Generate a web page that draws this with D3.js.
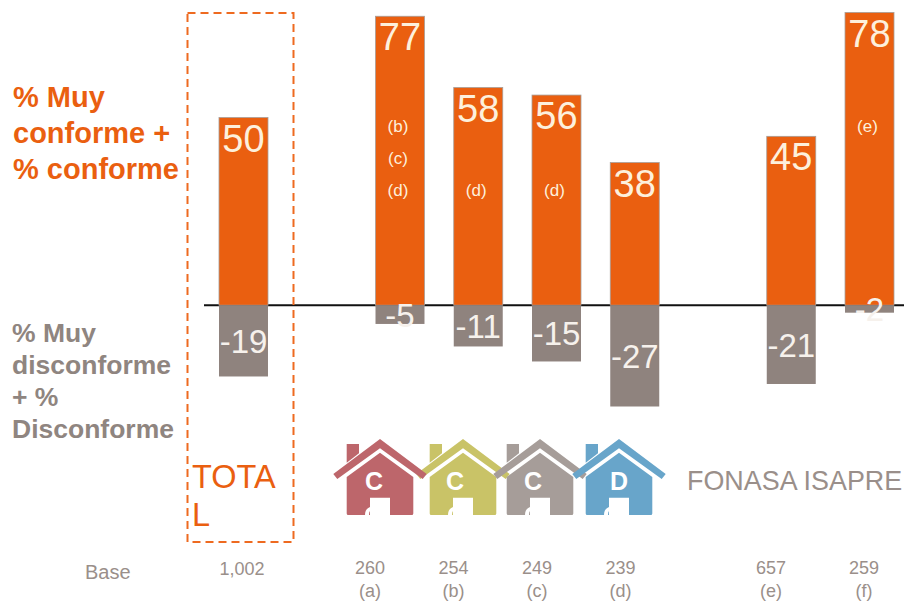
<!DOCTYPE html>
<html>
<head>
<meta charset="utf-8">
<script src="https://cdn.jsdelivr.net/npm/d3@7"></script>
<style>
  html, body { margin: 0; padding: 0; background: #fff; }
  svg { display: block; font-family: "Liberation Sans", Arial, sans-serif; }
</style>
</head>
<body>
<svg id="chart" width="904" height="601"></svg>
<script>
// chart data
var categories = ["TOTAL", "a", "b", "c", "d", "e", "f"];
var positive = [50, 77, 58, 56, 38, 45, 78];
var negative = [-19, -5, -11, -15, -27, -21, -2];
var significance = [[], ["(b)", "(c)", "(d)"], ["", "", "(d)"], ["", "", "(d)"], [], [], ["(e)"]];
var bases = ["1,002", "260", "254", "249", "239", "657", "259"];
var baseTags = ["", "(a)", "(b)", "(c)", "(d)", "(e)", "(f)"];
var houseLetters = ["C", "C", "C", "D"];

var ORANGE = "#ea5f10", GREY = "#8f837e", TEXT_GREY = "#9a8f8a";

var svg = d3.select("#chart");

// empty slots keep the gaps between the groups of bars
var slots = ["TOTAL", "gap1", "a", "b", "c", "d", "gap2", "e", "f"];
var x = d3.scaleBand().domain(slots).range([219, 894]).paddingInner(0.374).paddingOuter(0);
var y = d3.scaleLinear().domain([-27, 78]).range([406.5, 12.5]);

var data = categories.map(function(c, i) {
  return { cat: c, pos: positive[i], neg: negative[i], sig: significance[i] };
});

// zero line sits under the bars
svg.append("line")
  .attr("x1", 204).attr("x2", 904)
  .attr("y1", y(0)).attr("y2", y(0))
  .attr("stroke", "#111").attr("stroke-width", 2);

svg.selectAll(".bar-pos").data(data).enter().append("rect")
  .attr("class", "bar-pos")
  .attr("x", function(d) { return x(d.cat); })
  .attr("y", function(d) { return y(d.pos); })
  .attr("width", x.bandwidth())
  .attr("height", function(d) { return y(0) - y(d.pos); })
  .attr("fill", ORANGE)
  .attr("stroke", "#a79d97").attr("stroke-width", 0.8);

svg.selectAll(".bar-neg").data(data).enter().append("rect")
  .attr("class", "bar-neg")
  .attr("x", function(d) { return x(d.cat); })
  .attr("y", y(0))
  .attr("width", x.bandwidth())
  .attr("height", function(d) { return y(d.neg) - y(0); })
  .attr("fill", GREY);

svg.selectAll(".val-pos").data(data).enter().append("text")
  .attr("class", "val-pos")
  .attr("x", function(d) { return x(d.cat) + x.bandwidth() / 2; })
  .attr("y", function(d) { return y(d.pos) + 34; })
  .attr("text-anchor", "middle")
  .attr("font-size", 38)
  .attr("fill", "#fdf0dc")
  .text(function(d) { return d.pos; });

svg.selectAll(".val-neg").data(data).enter().append("text")
  .attr("class", "val-neg")
  .attr("x", function(d) { return x(d.cat) + x.bandwidth() / 2; })
  .attr("y", function(d) { return (y(0) + y(d.neg)) / 2 + 12; })
  .attr("text-anchor", "middle")
  .attr("font-size", 33)
  .attr("fill", "#f6f1ec")
  .text(function(d) { return d.neg; });

// letters for the significant differences
data.forEach(function(d) {
  d.sig.forEach(function(s, row) {
    svg.append("text")
      .attr("x", x(d.cat) + x.bandwidth() / 2 - 2)
      .attr("y", 132 + row * 32)
      .attr("text-anchor", "middle")
      .attr("font-size", 17)
      .attr("fill", "#fdf0dc")
      .text(s);
  });
});

// dashed box round the total
svg.append("rect")
  .attr("x", 187.5).attr("y", 13)
  .attr("width", 106).attr("height", 529)
  .attr("fill", "none")
  .attr("stroke", "#ee6a20").attr("stroke-width", 2)
  .attr("stroke-dasharray", "8,5");

function textLines(lines, xPos, yStart, step, size, color, weight) {
  lines.forEach(function(t, i) {
    svg.append("text")
      .attr("x", xPos).attr("y", yStart + i * step)
      .attr("font-size", size)
      .attr("font-weight", weight)
      .attr("fill", color)
      .text(t);
  });
}

textLines(["% Muy", "conforme +", "% conforme"], 13, 107, 36, 29, ORANGE, "bold");
textLines(["% Muy", "disconforme", "+ %", "Disconforme"], 12, 342, 32, 26.5, "#8f8580", "bold");
textLines(["TOTA", "L"], 192, 488, 38, 32.5, ORANGE, "normal");

svg.append("text")
  .attr("x", 687).attr("y", 490)
  .attr("font-size", 26.9)
  .attr("fill", TEXT_GREY)
  .text("FONASA ISAPRE");

// house icon, apex at 0,0
var house = {
  roof: "M0,0L46.7,35L42.7,40L0,9.3L-42.7,40L-46.7,35Z",
  chimney: "M-33.3,5H-21V14.3L-33.3,23.7Z",
  body: "M0,13.7L33.3,38V74.5Q33.3,76 31.8,76H10V58.7H-10V76H-31.8Q-33.3,76 -33.3,74.5V38Z",
  handle: "M-15,76Q-15,70 -10,68V72Q-11,73 -11,76Z"
};
var houseX = d3.scaleOrdinal().domain([0, 1, 2, 3]).range([380, 463, 540, 619]);
var letterX = d3.scaleOrdinal().domain([0, 1, 2, 3]).range([-6, -8, -7, 0]);
var houseColor = d3.scaleOrdinal().domain([0, 1, 2, 3]).range(["#bd666b", "#c9c367", "#a69d99", "#68a5ca"]);

// yellow goes first, the red eave lies on top of it
[1, 0, 2, 3].forEach(function(i) {
  var g = svg.append("g").attr("transform", "translate(" + houseX(i) + ",439)");
  g.append("path").attr("d", house.roof).attr("fill", houseColor(i));
  g.append("path").attr("d", house.chimney).attr("fill", houseColor(i));
  g.append("path").attr("d", house.body).attr("fill", houseColor(i));
  g.append("path").attr("d", house.handle).attr("fill", "#fff");
  g.append("text")
    .attr("x", letterX(i)).attr("y", 51)
    .attr("text-anchor", "middle")
    .attr("font-size", 25).attr("font-weight", "bold")
    .attr("fill", "#fff")
    .text(houseLetters[i]);
});

// base row, these columns do not follow the bars
var baseX = d3.scaleOrdinal().domain(categories).range([242, 370, 453.5, 537, 620.5, 771, 864]);

svg.append("text")
  .attr("x", 85).attr("y", 579)
  .attr("font-size", 20)
  .attr("fill", TEXT_GREY)
  .text("Base");

svg.selectAll(".base").data(categories).enter().append("text")
  .attr("class", "base")
  .attr("x", function(c) { return baseX(c); })
  .attr("y", function(c) { return c === "TOTAL" ? 575 : 574; })
  .attr("text-anchor", "middle")
  .attr("font-size", 18)
  .attr("fill", TEXT_GREY)
  .text(function(c, i) { return bases[i]; });

svg.selectAll(".tag").data(categories).enter().append("text")
  .attr("class", "tag")
  .attr("x", function(c) { return baseX(c); })
  .attr("y", 597)
  .attr("text-anchor", "middle")
  .attr("font-size", 18)
  .attr("fill", TEXT_GREY)
  .text(function(c, i) { return baseTags[i]; });
</script>
</body>
</html>
